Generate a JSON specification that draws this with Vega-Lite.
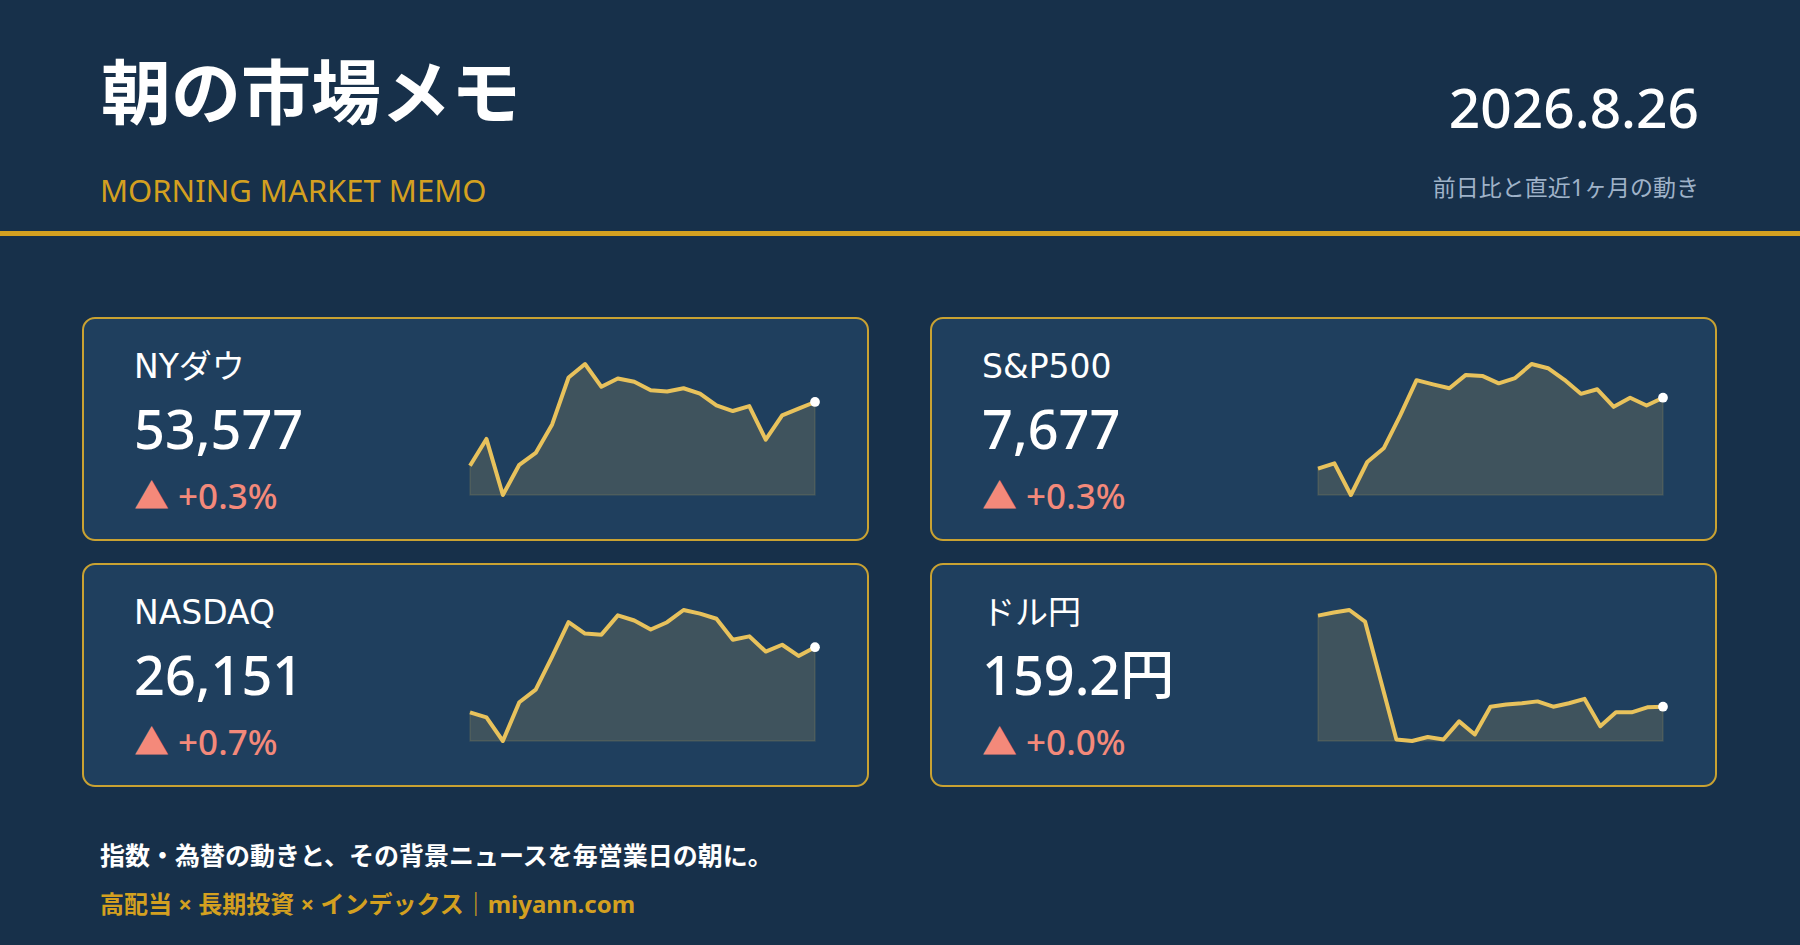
{
  "$schema": "https://vega.github.io/schema/vega-lite/v6.json",
  "background": "#17304A",
  "padding": 0,
  "spacing": 22,
  "center": true,
  "config": {
    "view": {"stroke": null},
    "font": "'Noto Sans', 'Noto Sans CJK JP'",
    "text": {"font": "'Noto Sans', 'Noto Sans CJK JP'"}
  },
  "datasets": {
    "header": [{"title": "朝の市場メモ", "sub": "MORNING MARKET MEMO", "date": "2026.8.26", "note": "前日比と直近1ヶ月の動き"}],
    "footer": [{"line1": "指数・為替の動きと、その背景ニュースを毎営業日の朝に。", "line2": "高配当 × 長期投資 × インデックス｜miyann.com"}],
    "cards": [
      {"key": "dow", "name": "NYダウ", "price": "53,577", "change": "▲ +0.3%"},
      {"key": "spx", "name": "S&P500", "price": "7,677", "change": "▲ +0.3%"},
      {"key": "ndx", "name": "NASDAQ", "price": "26,151", "change": "▲ +0.7%"},
      {"key": "fx", "name": "ドル円", "price": "159.2円", "change": "▲ +0.0%"}
    ],
    "dow": [
      {"day": 1, "close": 52152}, {"day": 2, "close": 52752}, {"day": 3, "close": 51500}, {"day": 4, "close": 52175},
      {"day": 5, "close": 52438}, {"day": 6, "close": 53075}, {"day": 7, "close": 54124}, {"day": 8, "close": 54425},
      {"day": 9, "close": 53916}, {"day": 10, "close": 54103}, {"day": 11, "close": 54027}, {"day": 12, "close": 53840},
      {"day": 13, "close": 53810}, {"day": 14, "close": 53884}, {"day": 15, "close": 53764}, {"day": 16, "close": 53503},
      {"day": 17, "close": 53375}, {"day": 18, "close": 53486}, {"day": 19, "close": 52737}, {"day": 20, "close": 53278},
      {"day": 21, "close": 53428}, {"day": 22, "close": 53577}
    ],
    "spx": [
      {"day": 1, "close": 7475}, {"day": 2, "close": 7490}, {"day": 3, "close": 7400}, {"day": 4, "close": 7494},
      {"day": 5, "close": 7533}, {"day": 6, "close": 7626}, {"day": 7, "close": 7727}, {"day": 8, "close": 7715},
      {"day": 9, "close": 7704}, {"day": 10, "close": 7742}, {"day": 11, "close": 7739}, {"day": 12, "close": 7718},
      {"day": 13, "close": 7733}, {"day": 14, "close": 7773}, {"day": 15, "close": 7761}, {"day": 16, "close": 7728},
      {"day": 17, "close": 7688}, {"day": 18, "close": 7701}, {"day": 19, "close": 7651}, {"day": 20, "close": 7677},
      {"day": 21, "close": 7655}, {"day": 22, "close": 7677}
    ],
    "ndx": [
      {"day": 1, "close": 24801}, {"day": 2, "close": 24695}, {"day": 3, "close": 24206}, {"day": 4, "close": 25010},
      {"day": 5, "close": 25271}, {"day": 6, "close": 25955}, {"day": 7, "close": 26669}, {"day": 8, "close": 26433},
      {"day": 9, "close": 26411}, {"day": 10, "close": 26811}, {"day": 11, "close": 26705}, {"day": 12, "close": 26517},
      {"day": 13, "close": 26669}, {"day": 14, "close": 26922}, {"day": 15, "close": 26846}, {"day": 16, "close": 26740},
      {"day": 17, "close": 26305}, {"day": 18, "close": 26376}, {"day": 19, "close": 26061}, {"day": 20, "close": 26202},
      {"day": 21, "close": 25969}, {"day": 22, "close": 26151}
    ],
    "fx": [
      {"day": 1, "close": 162.12}, {"day": 2, "close": 162.22}, {"day": 3, "close": 162.30}, {"day": 4, "close": 161.93},
      {"day": 5, "close": 160.04}, {"day": 6, "close": 158.15}, {"day": 7, "close": 158.10}, {"day": 8, "close": 158.23},
      {"day": 9, "close": 158.15}, {"day": 10, "close": 158.73}, {"day": 11, "close": 158.31}, {"day": 12, "close": 159.20},
      {"day": 13, "close": 159.27}, {"day": 14, "close": 159.31}, {"day": 15, "close": 159.37}, {"day": 16, "close": 159.20},
      {"day": 17, "close": 159.31}, {"day": 18, "close": 159.45}, {"day": 19, "close": 158.57}, {"day": 20, "close": 159.02},
      {"day": 21, "close": 159.02}, {"day": 22, "close": 159.18}, {"day": 23, "close": 159.20}
    ]
  },
  "vconcat": [
    {
      "width": 1800, "height": 295,
      "data": {"name": "header"},
      "layer": [
        {"mark": {"type": "text", "align": "left", "baseline": "alphabetic", "fontSize": 70, "fontWeight": "bold", "color": "#FFFFFF", "font": "Noto Sans CJK JP"},
         "encoding": {"text": {"field": "title"}, "x": {"value": 101}, "y": {"value": 119}}},
        {"mark": {"type": "text", "align": "left", "baseline": "alphabetic", "fontSize": 31, "color": "#D4A020"},
         "encoding": {"text": {"field": "sub"}, "x": {"value": 100}, "y": {"value": 202}}},
        {"mark": {"type": "text", "align": "right", "baseline": "alphabetic", "fontSize": 55, "fontWeight": 500, "color": "#FFFFFF"},
         "encoding": {"text": {"field": "date"}, "x": {"value": 1699}, "y": {"value": 128}}},
        {"mark": {"type": "text", "align": "right", "baseline": "alphabetic", "fontSize": 23, "color": "#9FB2C8"},
         "encoding": {"text": {"field": "note"}, "x": {"value": 1699}, "y": {"value": 196}}},
        {"mark": {"type": "rect", "color": "#D4A020"},
         "encoding": {"x": {"value": 0}, "x2": {"value": 1800}, "y": {"value": 231}, "y2": {"value": 236}}}
      ]
    },
    {
      "spacing": 61,
      "hconcat": [
        {
          "width": 785, "height": 222,
          "view": {"fill": "#1F3F5E", "stroke": "#C9A232", "strokeWidth": 2, "cornerRadius": 12},
          "layer": [
            {"data": {"name": "dow"}, "transform": [{"joinaggregate": [{"op": "min", "field": "close", "as": "lo"}, {"op": "max", "field": "day", "as": "last"}]}],
             "encoding": {
               "x": {"field": "day", "type": "quantitative", "axis": null, "scale": {"zero": false, "nice": false, "range": [387, 732]}},
               "y": {"field": "close", "type": "quantitative", "axis": null, "scale": {"zero": false, "nice": false, "range": [177, 46]}}
             },
             "layer": [
               {"mark": {"type": "area", "fill": "#E8C25C", "fillOpacity": 0.16, "stroke": "#E8C25C", "strokeOpacity": 0.12, "strokeWidth": 1.5}, "encoding": {"y2": {"field": "lo"}}},
               {"mark": {"type": "line", "color": "#E8C25C", "strokeWidth": 4, "strokeJoin": "round"}},
               {"transform": [{"filter": "datum.day == datum.last"}], "mark": {"type": "circle", "color": "#FFFFFF", "opacity": 1, "size": 95}}
             ]},
            {"data": {"name": "cards"}, "transform": [{"filter": "datum.key == 'dow'"}],
             "layer": [
               {"mark": {"type": "text", "align": "left", "baseline": "alphabetic", "fontSize": 33, "color": "#FFFFFF", "font": "'DejaVu Sans', 'Noto Sans CJK JP'"},
                "encoding": {"text": {"field": "name"}, "x": {"value": 51}, "y": {"value": 60}}},
               {"mark": {"type": "text", "align": "left", "baseline": "alphabetic", "fontSize": 54, "fontWeight": 500, "color": "#FFFFFF"},
                "encoding": {"text": {"field": "price"}, "x": {"value": 51}, "y": {"value": 131}}},
               {"mark": {"type": "text", "align": "left", "baseline": "alphabetic", "fontSize": 35, "fontWeight": 500, "color": "#F4897A"},
                "encoding": {"text": {"field": "change"}, "x": {"value": 51}, "y": {"value": 191}}}
             ]}
          ]
        },
        {
          "width": 785, "height": 222,
          "view": {"fill": "#1F3F5E", "stroke": "#C9A232", "strokeWidth": 2, "cornerRadius": 12},
          "layer": [
            {"data": {"name": "spx"}, "transform": [{"joinaggregate": [{"op": "min", "field": "close", "as": "lo"}, {"op": "max", "field": "day", "as": "last"}]}],
             "encoding": {
               "x": {"field": "day", "type": "quantitative", "axis": null, "scale": {"zero": false, "nice": false, "range": [387, 732]}},
               "y": {"field": "close", "type": "quantitative", "axis": null, "scale": {"zero": false, "nice": false, "range": [177, 46]}}
             },
             "layer": [
               {"mark": {"type": "area", "fill": "#E8C25C", "fillOpacity": 0.16, "stroke": "#E8C25C", "strokeOpacity": 0.12, "strokeWidth": 1.5}, "encoding": {"y2": {"field": "lo"}}},
               {"mark": {"type": "line", "color": "#E8C25C", "strokeWidth": 4, "strokeJoin": "round"}},
               {"transform": [{"filter": "datum.day == datum.last"}], "mark": {"type": "circle", "color": "#FFFFFF", "opacity": 1, "size": 95}}
             ]},
            {"data": {"name": "cards"}, "transform": [{"filter": "datum.key == 'spx'"}],
             "layer": [
               {"mark": {"type": "text", "align": "left", "baseline": "alphabetic", "fontSize": 33, "color": "#FFFFFF", "font": "'DejaVu Sans', 'Noto Sans CJK JP'"},
                "encoding": {"text": {"field": "name"}, "x": {"value": 51}, "y": {"value": 60}}},
               {"mark": {"type": "text", "align": "left", "baseline": "alphabetic", "fontSize": 54, "fontWeight": 500, "color": "#FFFFFF"},
                "encoding": {"text": {"field": "price"}, "x": {"value": 51}, "y": {"value": 131}}},
               {"mark": {"type": "text", "align": "left", "baseline": "alphabetic", "fontSize": 35, "fontWeight": 500, "color": "#F4897A"},
                "encoding": {"text": {"field": "change"}, "x": {"value": 51}, "y": {"value": 191}}}
             ]}
          ]
        }
      ]
    },
    {
      "spacing": 61,
      "hconcat": [
        {
          "width": 785, "height": 222,
          "view": {"fill": "#1F3F5E", "stroke": "#C9A232", "strokeWidth": 2, "cornerRadius": 12},
          "layer": [
            {"data": {"name": "ndx"}, "transform": [{"joinaggregate": [{"op": "min", "field": "close", "as": "lo"}, {"op": "max", "field": "day", "as": "last"}]}],
             "encoding": {
               "x": {"field": "day", "type": "quantitative", "axis": null, "scale": {"zero": false, "nice": false, "range": [387, 732]}},
               "y": {"field": "close", "type": "quantitative", "axis": null, "scale": {"zero": false, "nice": false, "range": [177, 46]}}
             },
             "layer": [
               {"mark": {"type": "area", "fill": "#E8C25C", "fillOpacity": 0.16, "stroke": "#E8C25C", "strokeOpacity": 0.12, "strokeWidth": 1.5}, "encoding": {"y2": {"field": "lo"}}},
               {"mark": {"type": "line", "color": "#E8C25C", "strokeWidth": 4, "strokeJoin": "round"}},
               {"transform": [{"filter": "datum.day == datum.last"}], "mark": {"type": "circle", "color": "#FFFFFF", "opacity": 1, "size": 95}}
             ]},
            {"data": {"name": "cards"}, "transform": [{"filter": "datum.key == 'ndx'"}],
             "layer": [
               {"mark": {"type": "text", "align": "left", "baseline": "alphabetic", "fontSize": 33, "color": "#FFFFFF", "font": "'DejaVu Sans', 'Noto Sans CJK JP'"},
                "encoding": {"text": {"field": "name"}, "x": {"value": 51}, "y": {"value": 60}}},
               {"mark": {"type": "text", "align": "left", "baseline": "alphabetic", "fontSize": 54, "fontWeight": 500, "color": "#FFFFFF"},
                "encoding": {"text": {"field": "price"}, "x": {"value": 51}, "y": {"value": 131}}},
               {"mark": {"type": "text", "align": "left", "baseline": "alphabetic", "fontSize": 35, "fontWeight": 500, "color": "#F4897A"},
                "encoding": {"text": {"field": "change"}, "x": {"value": 51}, "y": {"value": 191}}}
             ]}
          ]
        },
        {
          "width": 785, "height": 222,
          "view": {"fill": "#1F3F5E", "stroke": "#C9A232", "strokeWidth": 2, "cornerRadius": 12},
          "layer": [
            {"data": {"name": "fx"}, "transform": [{"joinaggregate": [{"op": "min", "field": "close", "as": "lo"}, {"op": "max", "field": "day", "as": "last"}]}],
             "encoding": {
               "x": {"field": "day", "type": "quantitative", "axis": null, "scale": {"zero": false, "nice": false, "range": [387, 732]}},
               "y": {"field": "close", "type": "quantitative", "axis": null, "scale": {"zero": false, "nice": false, "range": [177, 46]}}
             },
             "layer": [
               {"mark": {"type": "area", "fill": "#E8C25C", "fillOpacity": 0.16, "stroke": "#E8C25C", "strokeOpacity": 0.12, "strokeWidth": 1.5}, "encoding": {"y2": {"field": "lo"}}},
               {"mark": {"type": "line", "color": "#E8C25C", "strokeWidth": 4, "strokeJoin": "round"}},
               {"transform": [{"filter": "datum.day == datum.last"}], "mark": {"type": "circle", "color": "#FFFFFF", "opacity": 1, "size": 95}}
             ]},
            {"data": {"name": "cards"}, "transform": [{"filter": "datum.key == 'fx'"}],
             "layer": [
               {"mark": {"type": "text", "align": "left", "baseline": "alphabetic", "fontSize": 33, "color": "#FFFFFF", "font": "'DejaVu Sans', 'Noto Sans CJK JP'"},
                "encoding": {"text": {"field": "name"}, "x": {"value": 51}, "y": {"value": 60}}},
               {"mark": {"type": "text", "align": "left", "baseline": "alphabetic", "fontSize": 54, "fontWeight": 500, "color": "#FFFFFF"},
                "encoding": {"text": {"field": "price"}, "x": {"value": 51}, "y": {"value": 131}}},
               {"mark": {"type": "text", "align": "left", "baseline": "alphabetic", "fontSize": 35, "fontWeight": 500, "color": "#F4897A"},
                "encoding": {"text": {"field": "change"}, "x": {"value": 51}, "y": {"value": 191}}}
             ]}
          ]
        }
      ]
    },
    {
      "width": 1800, "height": 136,
      "data": {"name": "footer"},
      "layer": [
        {"mark": {"type": "text", "align": "left", "baseline": "alphabetic", "fontSize": 25, "fontWeight": "bold", "color": "#FFFFFF"},
         "encoding": {"text": {"field": "line1"}, "x": {"value": 100}, "y": {"value": 56}}},
        {"mark": {"type": "text", "align": "left", "baseline": "alphabetic", "fontSize": 24, "fontWeight": "bold", "color": "#D4A020"},
         "encoding": {"text": {"field": "line2"}, "x": {"value": 100}, "y": {"value": 104}}}
      ]
    }
  ]
}
